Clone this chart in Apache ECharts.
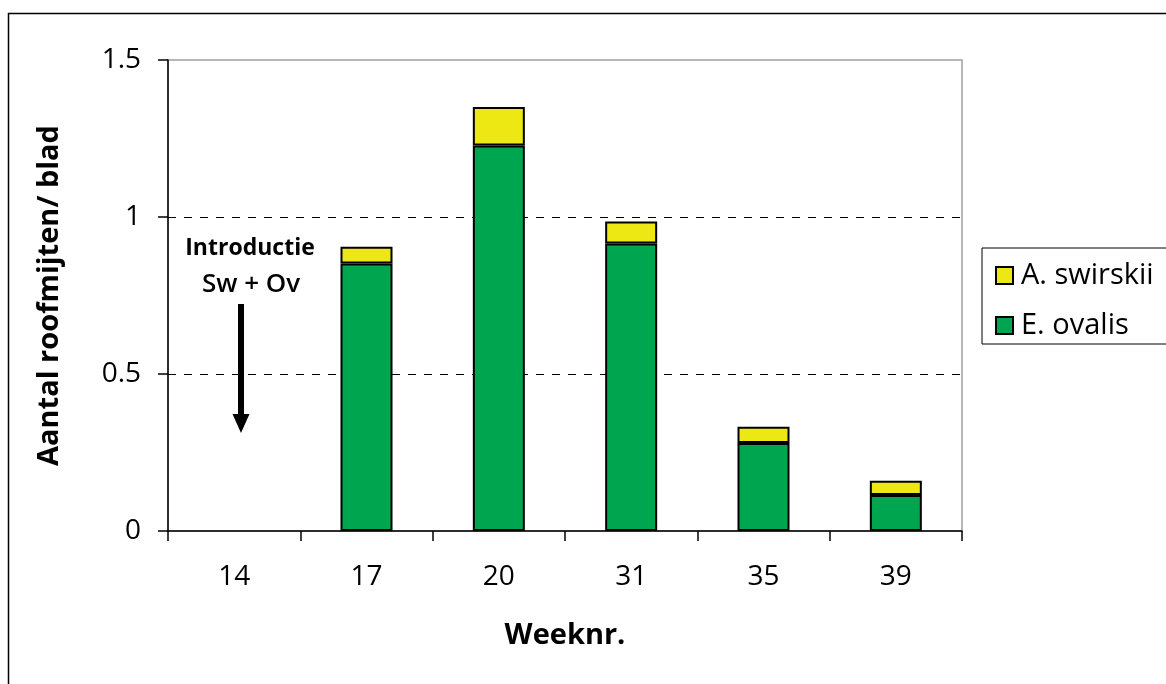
<!DOCTYPE html>
<html>
<head>
<meta charset="utf-8">
<script src="https://cdn.jsdelivr.net/npm/echarts@6/dist/echarts.min.js"></script>
<style>
  html, body { margin: 0; padding: 0; background: #fff; }
  #chart { width: 1166px; height: 684px; }
</style>
</head>
<body>
<div id="chart"></div>
<script>
// Weeks sampled
var weeks = ['14', '17', '20', '31', '35', '39'];
// Predatory mites per leaf, per species (week 14: nothing counted yet)
var eOvalis   = [null, 0.852, 1.228, 0.916, 0.280, 0.115];
var aSwirskii = [null, 0.053, 0.122, 0.070, 0.052, 0.045];
var yTicks = { min: 0, max: 1.5, interval: 0.5 };

var FONT = '"Open Sans", sans-serif';

var chart = echarts.init(document.getElementById('chart'), null, { renderer: 'canvas' });

chart.setOption({
  animation: false,
  backgroundColor: '#fff',
  textStyle: { fontFamily: FONT, color: '#000' },
  grid: {
    left: 168, top: 60, right: 204, bottom: 153,
    show: true, borderColor: '#a0a0a4', borderWidth: 1.5, backgroundColor: 'transparent'
  },
  legend: {
    data: ['A. swirskii', 'E. ovalis'],
    orient: 'vertical',
    left: 982, top: 248,
    padding: [13, 60, 4, 13],
    itemGap: 21,
    icon: 'rect',
    itemWidth: 17, itemHeight: 17,
    backgroundColor: '#fff',
    borderColor: '#000', borderWidth: 1,
    textStyle: { fontFamily: FONT, fontSize: 29, color: '#000', padding: [0, 0, 0, 3] }
  },
  xAxis: {
    type: 'category',
    data: weeks,
    name: 'Weeknr.',
    nameLocation: 'middle',
    nameGap: 90,
    nameTextStyle: { fontFamily: FONT, fontSize: 29, fontWeight: 'bold', color: '#000' },
    axisLine: { lineStyle: { color: '#000', width: 1.5 } },
    axisTick: { show: true, length: 10, lineStyle: { color: '#000', width: 1.5 } },
    axisLabel: { fontFamily: FONT, fontSize: 28, color: '#000', margin: 32 }
  },
  yAxis: {
    type: 'value',
    min: yTicks.min, max: yTicks.max, interval: yTicks.interval,
    name: 'Aantal roofmijten/ blad',
    nameLocation: 'middle',
    nameGap: 104,
    nameTextStyle: { fontFamily: FONT, fontSize: 29, fontWeight: 'bold', color: '#000' },
    axisLine: { show: true, lineStyle: { color: '#000', width: 1.5 } },
    axisTick: { show: true, length: 10, lineStyle: { color: '#000', width: 1.5 } },
    axisLabel: { fontFamily: FONT, fontSize: 28, color: '#000', margin: 27 },
    splitLine: {
      show: true,
      lineStyle: { color: ['none', '#000', '#000', 'none'], type: [8, 8], width: 1 }
    }
  },
  series: [
    {
      name: 'E. ovalis',
      type: 'bar',
      stack: 'mites',
      data: eOvalis,
      barWidth: 52,
      itemStyle: { color: '#00a64f', borderColor: '#000', borderWidth: 2 }
    },
    {
      name: 'A. swirskii',
      type: 'bar',
      stack: 'mites',
      data: aSwirskii,
      barWidth: 52,
      itemStyle: { color: '#ede813', borderColor: '#000', borderWidth: 2 }
    }
  ],
  graphic: [
    {
      type: 'rect', silent: true, z: -10,
      shape: { x: 8.5, y: 13.5, width: 1300, height: 800 },
      style: { fill: 'none', stroke: '#000', lineWidth: 1.5 }
    },
    {
      type: 'text', silent: true,
      style: { x: 250, y: 248, text: 'Introductie', font: 'bold 23px ' + FONT, fill: '#000',
               textAlign: 'center', textVerticalAlign: 'middle' }
    },
    {
      type: 'text', silent: true,
      style: { x: 251, y: 285, text: 'Sw + Ov', font: '600 26px ' + FONT, fill: '#000',
               textAlign: 'center', textVerticalAlign: 'middle' }
    },
    {
      type: 'rect', silent: true,
      shape: { x: 238, y: 304, width: 6, height: 113 },
      style: { fill: '#000' }
    },
    {
      type: 'polygon', silent: true,
      shape: { points: [[232.5, 414], [249.5, 414], [241, 433]] },
      style: { fill: '#000' }
    }
  ]
});
</script>
</body>
</html>
